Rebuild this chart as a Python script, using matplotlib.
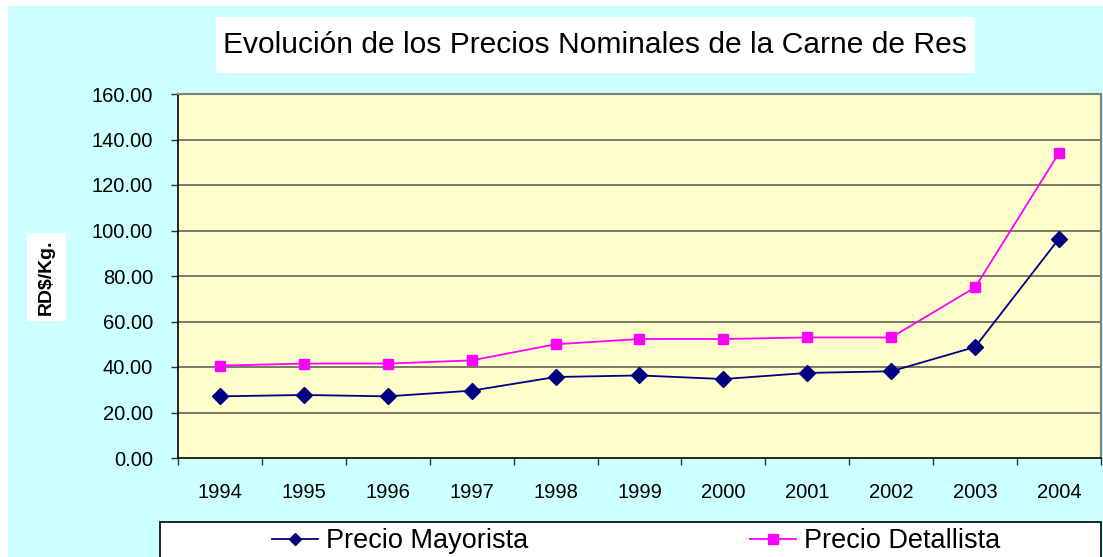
import matplotlib
matplotlib.use("Agg")
import matplotlib.pyplot as plt
from matplotlib.patches import Rectangle
from matplotlib.lines import Line2D

plt.rcParams['font.family'] = ['Liberation Sans', 'DejaVu Sans']

years = ['1994', '1995', '1996', '1997', '1998', '1999', '2000', '2001', '2002', '2003', '2004']
precio_mayorista = [27.1, 27.7, 27.1, 29.6, 35.6, 36.3, 34.7, 37.4, 38.1, 48.8, 96.4]
precio_detallista = [40.6, 41.5, 41.5, 42.9, 50.0, 52.3, 52.3, 53.0, 53.0, 75.0, 134.1]
yticks = [0, 20, 40, 60, 80, 100, 120, 140, 160]
title = 'Evolución de los Precios Nominales de la Carne de Res'
ylabel = 'RD$/Kg.'
series_names = ['Precio Mayorista', 'Precio Detallista']

W, H = 1103, 557
fig = plt.figure(figsize=(W / 100, H / 100), dpi=100, facecolor='white')

def fx(px):
    return px / W

def fy(py):
    return 1 - py / H

# cyan chart area
fig.patches.append(Rectangle((fx(8), 0), 1 - fx(8), fy(6), transform=fig.transFigure,
                             facecolor='#CCFFFF', edgecolor='none', zorder=-5))

ax = fig.add_axes([fx(178), fy(458), fx(1101) - fx(178), (458 - 94) / H])
ax.set_zorder(2)
ax.set_facecolor('#FFFFCC')

x = list(range(len(years)))
ax.plot(x, precio_mayorista, color='#000080', lw=1.3, marker='D', ms=8,
        markeredgecolor='#000080', markerfacecolor='#000080', zorder=3)
ax.plot(x, precio_detallista, color='#FF00FF', lw=1.3, marker='s', ms=7.5,
        markeredgecolor='#FF00FF', markerfacecolor='#FF00FF', zorder=3)

ax.set_xlim(-0.5, len(years) - 0.5)
ax.set_ylim(0, 160)
ax.set_yticks(yticks)
ax.set_yticklabels([f'{v:.2f}' for v in yticks], fontsize=14.5, color='black')
ax.set_xticks(x)
ax.set_xticklabels(years, fontsize=14.5, color='black')
ax.set_xticks([i - 0.5 for i in range(len(years) + 1)], minor=True)
ax.tick_params(axis='x', which='major', length=0, pad=18)
ax.tick_params(axis='x', which='minor', length=5, width=1, color='#333333', direction='out')
ax.tick_params(axis='y', which='major', length=5, width=1, color='#333333', pad=13, direction='out')

for v in yticks[1:]:
    ax.axhline(v, color='#6e6e5e', lw=1.3, zorder=1)

ax.spines['left'].set_color('black')
ax.spines['bottom'].set_color('black')
ax.spines['left'].set_linewidth(1.2)
ax.spines['bottom'].set_linewidth(1.2)
ax.spines['top'].set_color('#808080')
ax.spines['right'].set_color('#808080')
ax.spines['top'].set_linewidth(1.5)
ax.spines['right'].set_linewidth(1.5)

# title box
fig.patches.append(Rectangle((fx(216), fy(72.7)), fx(975) - fx(216), (72.7 - 17) / H,
                             transform=fig.transFigure, facecolor='white', edgecolor='none', zorder=1))
fig.text(fx(595), fy(45), title, fontsize=21.6, ha='center', va='center', color='black')

# y label box
fig.patches.append(Rectangle((fx(27), fy(320.7)), fx(66) - fx(27), (320.7 - 233.3) / H,
                             transform=fig.transFigure, facecolor='white', edgecolor='none', zorder=1))
fig.text(fx(46.5), fy(277), ylabel, fontsize=14, fontweight='bold', rotation=90,
         ha='center', va='center', color='black')

# legend box
fig.patches.append(Rectangle((fx(160), -0.05), fx(1101) - fx(160), fy(522) + 0.05,
                             transform=fig.transFigure, facecolor='white', edgecolor='black',
                             lw=1.2, zorder=1, clip_on=False))
handles = [
    Line2D([], [], color='#000080', lw=1.3, marker='D', ms=6.5, markerfacecolor='#000080', markeredgecolor='#000080'),
    Line2D([], [], color='#FF00FF', lw=1.3, marker='s', ms=6.5, markerfacecolor='#FF00FF', markeredgecolor='#FF00FF'),
]
leg = fig.legend(handles, series_names, loc='center', bbox_to_anchor=(fx(636), fy(541)),
                 ncol=2, frameon=False, fontsize=19.5, handlelength=1.7, handletextpad=0.3,
                 columnspacing=8.2, borderpad=0)
leg.set_zorder(5)

fig.savefig('out.png', dpi=100, facecolor='white')
